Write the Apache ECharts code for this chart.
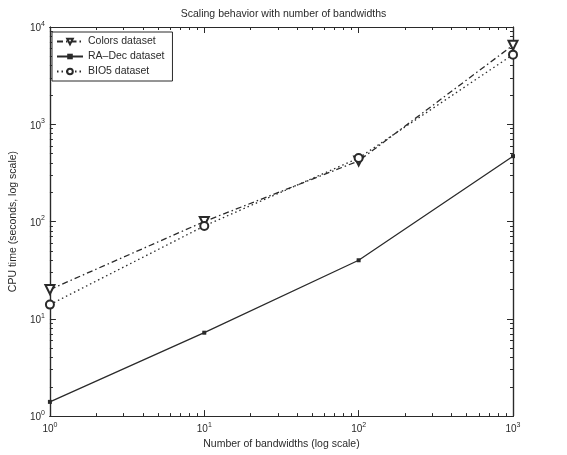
<!DOCTYPE html>
<html><head><meta charset="utf-8">
<script src="https://cdn.jsdelivr.net/npm/echarts@6/dist/echarts.min.js"></script>
<style>html,body{margin:0;padding:0;background:#fff}#c{width:567px;height:455px}</style>
</head><body><div id="c"></div>
<script>
var bandwidths = [1, 10, 100, 1000];
var colorsData = [20, 100, 420, 6500];
var raDecData = [1.4, 7.2, 40, 470];
var bio5Data = [14, 90, 450, 5200];
var seriesNames = ['Colors dataset', 'RA\u2013Dec dataset', 'BIO5 dataset'];
var xMajorTicks = [1, 10, 100, 1000];
var yMajorTicks = [1, 10, 100, 1000, 10000];

function minors(maxV) {
  var out = [];
  for (var d = 1; d < maxV; d *= 10) for (var k = 2; k <= 9; k++) out.push(d * k);
  return out;
}
var ink = '#2a2a2a';
var font = 'Liberation Sans';
function lab(v) {
  var e = Math.round(Math.log10(v));
  return '{b|10}{s|' + e + '}';
}
var rich = { b: { fontSize: 10, fontFamily: font, color: ink, verticalAlign: 'bottom' },
             s: { fontSize: 7, fontFamily: font, color: ink, verticalAlign: 'top', padding: [0, 0, 6, 0] } };

function mkAxis(pos, max, major, minorT, show) {
  return {
    type: 'log', logBase: 10, min: 1, max: max, position: pos,
    axisLine: { show: true, lineStyle: { color: ink, width: 1.2 } },
    splitLine: { show: false },
    axisTick: { show: true, inside: true, length: minorT ? 3 : 6, lineStyle: { color: ink },
                customValues: minorT ? minors(max) : major },
    axisLabel: { show: !!show, customValues: major, formatter: lab, rich: rich, margin: 5 }
  };
}
var xAxes = [
  mkAxis('bottom', 1000, xMajorTicks, false, true),
  mkAxis('bottom', 1000, xMajorTicks, true, false),
  mkAxis('top', 1000, xMajorTicks, false, false),
  mkAxis('top', 1000, xMajorTicks, true, false)
];
xAxes[0].name = 'Number of bandwidths (log scale)';
xAxes[0].nameLocation = 'middle';
xAxes[0].nameGap = 18;
xAxes[0].nameTextStyle = { fontSize: 10.5, fontFamily: font, color: ink };
var yAxes = [
  mkAxis('left', 10000, yMajorTicks, false, true),
  mkAxis('left', 10000, yMajorTicks, true, false),
  mkAxis('right', 10000, yMajorTicks, false, false),
  mkAxis('right', 10000, yMajorTicks, true, false)
];
yAxes[0].name = 'CPU time (seconds, log scale)';
yAxes[0].nameLocation = 'middle';
yAxes[0].nameGap = 22;
yAxes[0].nameTextStyle = { fontSize: 10.5, fontFamily: font, color: ink };

function pairs(arr) { return bandwidths.map(function (b, i) { return [b, arr[i]]; }); }

var chart = echarts.init(document.getElementById('c'), null, { renderer: 'canvas' });
chart.setOption({
  animation: false,
  backgroundColor: '#fff',
  title: { text: 'Scaling behavior with number of bandwidths', left: 'center', top: 4,
           textStyle: { fontSize: 10.5, fontWeight: 'normal', fontFamily: font, color: ink } },
  grid: { left: 46, right: 54, top: 27, bottom: 33 },
  xAxis: xAxes,
  yAxis: yAxes,
  legend: {
    orient: 'vertical', left: 52, top: 32, itemWidth: 26, itemHeight: 7, itemGap: 4,
    padding: [4, 8, 4, 4], borderColor: ink, borderWidth: 1, backgroundColor: '#fff',
    textStyle: { fontSize: 10.5, fontFamily: font, color: ink },
    data: seriesNames
  },
  series: [
    { name: seriesNames[0], type: 'line', data: pairs(colorsData), symbol: 'emptyTriangle', symbolRotate: 180, symbolSize: 9,
      lineStyle: { color: ink, width: 1.3, type: [6, 3, 1.5, 3] }, itemStyle: { color: ink, borderWidth: 1 } },
    { name: seriesNames[1], type: 'line', data: pairs(raDecData), symbol: 'rect', symbolSize: 4,
      lineStyle: { color: ink, width: 1.3 }, itemStyle: { color: ink } },
    { name: seriesNames[2], type: 'line', data: pairs(bio5Data), symbol: 'emptyCircle', symbolSize: 8,
      lineStyle: { color: ink, width: 1.3, type: [1.5, 3] }, itemStyle: { color: ink, borderWidth: 1 } }
  ]
});
</script></body></html>
